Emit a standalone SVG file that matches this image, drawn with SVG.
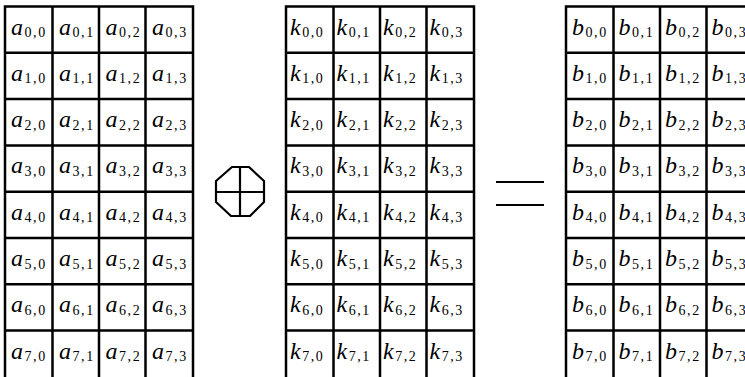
<svg xmlns="http://www.w3.org/2000/svg" width="745" height="377" viewBox="0 0 745 377">
<style>
.g{fill:none;stroke:#000;stroke-width:2.5}
.v{font-family:"Liberation Serif","Times New Roman",serif;font-size:24px;font-style:italic;fill:#000}
.s{font-family:"Liberation Serif","Times New Roman",serif;font-size:14px;font-style:normal;letter-spacing:1.6px}
.op{fill:none;stroke:#000;stroke-width:2.2;stroke-linejoin:round}
</style>
<rect width="745" height="377" fill="#fff"/>
<defs>
<g id="grid">
<rect x="0" y="0" width="188" height="372" class="g"/>
<path class="g" d="M47.5 0V372M94 0V372M140.5 0V372M0 46.3H188M0 92.6H188M0 138.9H188M0 185.2H188M0 231.5H188M0 277.8H188M0 324.1H188"/>
</g>
</defs>
<g id="matrixA">
<use href="#grid" x="5" y="6.5"/>
<g class="v">
<text x="11" y="34.5">a<tspan class="s" dx="1.5" dy="2.5">0,0</tspan></text>
<text x="59" y="34.5">a<tspan class="s" dx="1.5" dy="2.5">0,1</tspan></text>
<text x="105.5" y="34.5">a<tspan class="s" dx="1.5" dy="2.5">0,2</tspan></text>
<text x="152" y="34.5">a<tspan class="s" dx="1.5" dy="2.5">0,3</tspan></text>
<text x="11" y="80.8">a<tspan class="s" dx="1.5" dy="2.5">1,0</tspan></text>
<text x="59" y="80.8">a<tspan class="s" dx="1.5" dy="2.5">1,1</tspan></text>
<text x="105.5" y="80.8">a<tspan class="s" dx="1.5" dy="2.5">1,2</tspan></text>
<text x="152" y="80.8">a<tspan class="s" dx="1.5" dy="2.5">1,3</tspan></text>
<text x="11" y="127.1">a<tspan class="s" dx="1.5" dy="2.5">2,0</tspan></text>
<text x="59" y="127.1">a<tspan class="s" dx="1.5" dy="2.5">2,1</tspan></text>
<text x="105.5" y="127.1">a<tspan class="s" dx="1.5" dy="2.5">2,2</tspan></text>
<text x="152" y="127.1">a<tspan class="s" dx="1.5" dy="2.5">2,3</tspan></text>
<text x="11" y="173.4">a<tspan class="s" dx="1.5" dy="2.5">3,0</tspan></text>
<text x="59" y="173.4">a<tspan class="s" dx="1.5" dy="2.5">3,1</tspan></text>
<text x="105.5" y="173.4">a<tspan class="s" dx="1.5" dy="2.5">3,2</tspan></text>
<text x="152" y="173.4">a<tspan class="s" dx="1.5" dy="2.5">3,3</tspan></text>
<text x="11" y="219.7">a<tspan class="s" dx="1.5" dy="2.5">4,0</tspan></text>
<text x="59" y="219.7">a<tspan class="s" dx="1.5" dy="2.5">4,1</tspan></text>
<text x="105.5" y="219.7">a<tspan class="s" dx="1.5" dy="2.5">4,2</tspan></text>
<text x="152" y="219.7">a<tspan class="s" dx="1.5" dy="2.5">4,3</tspan></text>
<text x="11" y="266">a<tspan class="s" dx="1.5" dy="2.5">5,0</tspan></text>
<text x="59" y="266">a<tspan class="s" dx="1.5" dy="2.5">5,1</tspan></text>
<text x="105.5" y="266">a<tspan class="s" dx="1.5" dy="2.5">5,2</tspan></text>
<text x="152" y="266">a<tspan class="s" dx="1.5" dy="2.5">5,3</tspan></text>
<text x="11" y="312.3">a<tspan class="s" dx="1.5" dy="2.5">6,0</tspan></text>
<text x="59" y="312.3">a<tspan class="s" dx="1.5" dy="2.5">6,1</tspan></text>
<text x="105.5" y="312.3">a<tspan class="s" dx="1.5" dy="2.5">6,2</tspan></text>
<text x="152" y="312.3">a<tspan class="s" dx="1.5" dy="2.5">6,3</tspan></text>
<text x="11" y="358.6">a<tspan class="s" dx="1.5" dy="2.5">7,0</tspan></text>
<text x="59" y="358.6">a<tspan class="s" dx="1.5" dy="2.5">7,1</tspan></text>
<text x="105.5" y="358.6">a<tspan class="s" dx="1.5" dy="2.5">7,2</tspan></text>
<text x="152" y="358.6">a<tspan class="s" dx="1.5" dy="2.5">7,3</tspan></text>
</g>
</g>
<g id="xor">
<polygon class="op" points="232,167 249,167 264,181 264,202 250,216 231,216 216,202 216,181"/>
<path class="op" d="M240 167V216M216 192H264"/>
</g>
<g id="matrixK">
<use href="#grid" x="286" y="6.5"/>
<g class="v">
<text x="290" y="34.5">k<tspan class="s" dx="1.5" dy="2.5">0,0</tspan></text>
<text x="336.5" y="34.5">k<tspan class="s" dx="1.5" dy="2.5">0,1</tspan></text>
<text x="383" y="34.5">k<tspan class="s" dx="1.5" dy="2.5">0,2</tspan></text>
<text x="429.5" y="34.5">k<tspan class="s" dx="1.5" dy="2.5">0,3</tspan></text>
<text x="290" y="80.8">k<tspan class="s" dx="1.5" dy="2.5">1,0</tspan></text>
<text x="336.5" y="80.8">k<tspan class="s" dx="1.5" dy="2.5">1,1</tspan></text>
<text x="383" y="80.8">k<tspan class="s" dx="1.5" dy="2.5">1,2</tspan></text>
<text x="429.5" y="80.8">k<tspan class="s" dx="1.5" dy="2.5">1,3</tspan></text>
<text x="290" y="127.1">k<tspan class="s" dx="1.5" dy="2.5">2,0</tspan></text>
<text x="336.5" y="127.1">k<tspan class="s" dx="1.5" dy="2.5">2,1</tspan></text>
<text x="383" y="127.1">k<tspan class="s" dx="1.5" dy="2.5">2,2</tspan></text>
<text x="429.5" y="127.1">k<tspan class="s" dx="1.5" dy="2.5">2,3</tspan></text>
<text x="290" y="173.4">k<tspan class="s" dx="1.5" dy="2.5">3,0</tspan></text>
<text x="336.5" y="173.4">k<tspan class="s" dx="1.5" dy="2.5">3,1</tspan></text>
<text x="383" y="173.4">k<tspan class="s" dx="1.5" dy="2.5">3,2</tspan></text>
<text x="429.5" y="173.4">k<tspan class="s" dx="1.5" dy="2.5">3,3</tspan></text>
<text x="290" y="219.7">k<tspan class="s" dx="1.5" dy="2.5">4,0</tspan></text>
<text x="336.5" y="219.7">k<tspan class="s" dx="1.5" dy="2.5">4,1</tspan></text>
<text x="383" y="219.7">k<tspan class="s" dx="1.5" dy="2.5">4,2</tspan></text>
<text x="429.5" y="219.7">k<tspan class="s" dx="1.5" dy="2.5">4,3</tspan></text>
<text x="290" y="266">k<tspan class="s" dx="1.5" dy="2.5">5,0</tspan></text>
<text x="336.5" y="266">k<tspan class="s" dx="1.5" dy="2.5">5,1</tspan></text>
<text x="383" y="266">k<tspan class="s" dx="1.5" dy="2.5">5,2</tspan></text>
<text x="429.5" y="266">k<tspan class="s" dx="1.5" dy="2.5">5,3</tspan></text>
<text x="290" y="312.3">k<tspan class="s" dx="1.5" dy="2.5">6,0</tspan></text>
<text x="336.5" y="312.3">k<tspan class="s" dx="1.5" dy="2.5">6,1</tspan></text>
<text x="383" y="312.3">k<tspan class="s" dx="1.5" dy="2.5">6,2</tspan></text>
<text x="429.5" y="312.3">k<tspan class="s" dx="1.5" dy="2.5">6,3</tspan></text>
<text x="290" y="358.6">k<tspan class="s" dx="1.5" dy="2.5">7,0</tspan></text>
<text x="336.5" y="358.6">k<tspan class="s" dx="1.5" dy="2.5">7,1</tspan></text>
<text x="383" y="358.6">k<tspan class="s" dx="1.5" dy="2.5">7,2</tspan></text>
<text x="429.5" y="358.6">k<tspan class="s" dx="1.5" dy="2.5">7,3</tspan></text>
</g>
</g>
<g id="equals">
<path d="M496 182H544M496 205H544" stroke="#000" stroke-width="2.2"/>
</g>
<g id="matrixB">
<use href="#grid" x="566" y="6.5"/>
<g class="v">
<text x="572" y="34.5">b<tspan class="s" dx="1.5" dy="2.5">0,0</tspan></text>
<text x="618.5" y="34.5">b<tspan class="s" dx="1.5" dy="2.5">0,1</tspan></text>
<text x="665" y="34.5">b<tspan class="s" dx="1.5" dy="2.5">0,2</tspan></text>
<text x="711.5" y="34.5">b<tspan class="s" dx="1.5" dy="2.5">0,3</tspan></text>
<text x="572" y="80.8">b<tspan class="s" dx="1.5" dy="2.5">1,0</tspan></text>
<text x="618.5" y="80.8">b<tspan class="s" dx="1.5" dy="2.5">1,1</tspan></text>
<text x="665" y="80.8">b<tspan class="s" dx="1.5" dy="2.5">1,2</tspan></text>
<text x="711.5" y="80.8">b<tspan class="s" dx="1.5" dy="2.5">1,3</tspan></text>
<text x="572" y="127.1">b<tspan class="s" dx="1.5" dy="2.5">2,0</tspan></text>
<text x="618.5" y="127.1">b<tspan class="s" dx="1.5" dy="2.5">2,1</tspan></text>
<text x="665" y="127.1">b<tspan class="s" dx="1.5" dy="2.5">2,2</tspan></text>
<text x="711.5" y="127.1">b<tspan class="s" dx="1.5" dy="2.5">2,3</tspan></text>
<text x="572" y="173.4">b<tspan class="s" dx="1.5" dy="2.5">3,0</tspan></text>
<text x="618.5" y="173.4">b<tspan class="s" dx="1.5" dy="2.5">3,1</tspan></text>
<text x="665" y="173.4">b<tspan class="s" dx="1.5" dy="2.5">3,2</tspan></text>
<text x="711.5" y="173.4">b<tspan class="s" dx="1.5" dy="2.5">3,3</tspan></text>
<text x="572" y="219.7">b<tspan class="s" dx="1.5" dy="2.5">4,0</tspan></text>
<text x="618.5" y="219.7">b<tspan class="s" dx="1.5" dy="2.5">4,1</tspan></text>
<text x="665" y="219.7">b<tspan class="s" dx="1.5" dy="2.5">4,2</tspan></text>
<text x="711.5" y="219.7">b<tspan class="s" dx="1.5" dy="2.5">4,3</tspan></text>
<text x="572" y="266">b<tspan class="s" dx="1.5" dy="2.5">5,0</tspan></text>
<text x="618.5" y="266">b<tspan class="s" dx="1.5" dy="2.5">5,1</tspan></text>
<text x="665" y="266">b<tspan class="s" dx="1.5" dy="2.5">5,2</tspan></text>
<text x="711.5" y="266">b<tspan class="s" dx="1.5" dy="2.5">5,3</tspan></text>
<text x="572" y="312.3">b<tspan class="s" dx="1.5" dy="2.5">6,0</tspan></text>
<text x="618.5" y="312.3">b<tspan class="s" dx="1.5" dy="2.5">6,1</tspan></text>
<text x="665" y="312.3">b<tspan class="s" dx="1.5" dy="2.5">6,2</tspan></text>
<text x="711.5" y="312.3">b<tspan class="s" dx="1.5" dy="2.5">6,3</tspan></text>
<text x="572" y="358.6">b<tspan class="s" dx="1.5" dy="2.5">7,0</tspan></text>
<text x="618.5" y="358.6">b<tspan class="s" dx="1.5" dy="2.5">7,1</tspan></text>
<text x="665" y="358.6">b<tspan class="s" dx="1.5" dy="2.5">7,2</tspan></text>
<text x="711.5" y="358.6">b<tspan class="s" dx="1.5" dy="2.5">7,3</tspan></text>
</g>
</g>
</svg>
